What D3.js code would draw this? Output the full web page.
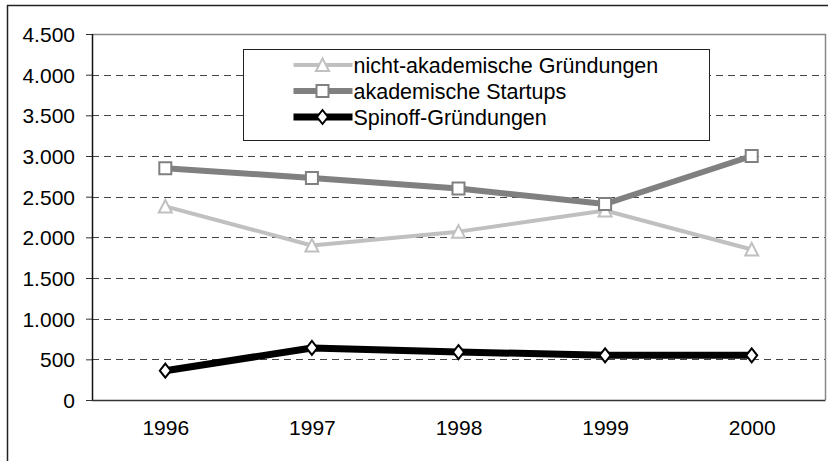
<!DOCTYPE html>
<html>
<head>
<meta charset="utf-8">
<script src="https://cdn.jsdelivr.net/npm/d3@7"></script>
<style>
  body { margin: 0; background: #fff; }
  svg text { font-family: "Liberation Sans", Arial, sans-serif; fill: #000; }
</style>
</head>
<body>
<div id="chart"></div>
<script>
// data
var years = ["1996", "1997", "1998", "1999", "2000"];
var nichtAkademisch = [2380, 1900, 2070, 2330, 1850];
var akademisch = [2850, 2730, 2600, 2410, 3000];
var spinoff = [360, 640, 590, 550, 550];
var yTicks = [0, 500, 1000, 1500, 2000, 2500, 3000, 3500, 4000, 4500];

var svgWidth = 828;
var svgHeight = 461;

// plot area
var margin = { top: 34, right: 3, bottom: 61, left: 92 };
var width = svgWidth - margin.left - margin.right;
var height = svgHeight - margin.top - margin.bottom;

var de = d3.formatLocale({ decimal: ",", thousands: ".", grouping: [3], currency: ["", "€"] });
var fmt = de.format(",d");

var svg = d3.select("#chart")
    .append("svg")
    .attr("width", svgWidth)
    .attr("height", svgHeight);

// outer chart border (runs off the picture at right and bottom)
svg.append("rect")
    .attr("x", 7.5)
    .attr("y", 5.5)
    .attr("width", 840)
    .attr("height", 480)
    .attr("fill", "none")
    .attr("stroke", "#222")
    .attr("stroke-width", 1.5);

var chartGroup = svg.append("g")
    .attr("transform", `translate(${margin.left}, ${margin.top})`);

var xScale = d3.scalePoint()
    .domain(years)
    .range([0, width])
    .padding(0.5);

var yScale = d3.scaleLinear()
    .domain([0, 4500])
    .range([height, 0]);

// dashed gridlines
chartGroup.append("g")
    .selectAll("line")
    .data(yTicks.filter(d => d > 0 && d < 4500))
    .enter()
    .append("line")
    .attr("x1", 0)
    .attr("x2", width)
    .attr("y1", d => Math.round(yScale(d)) + 0.5)
    .attr("y2", d => Math.round(yScale(d)) + 0.5)
    .attr("stroke", "#444")
    .attr("stroke-width", 1.2)
    .attr("stroke-dasharray", "7,5");

// plot area border top / right
chartGroup.append("path")
    .attr("d", `M0,${yScale(4500) + 0.5}H${width + 0.5}V${height}`)
    .attr("fill", "none")
    .attr("stroke", "#888")
    .attr("stroke-width", 1.5);

// y axis
var yAxis = d3.axisLeft(yScale)
    .tickValues(yTicks)
    .tickSize(6)
    .tickPadding(11)
    .tickFormat(fmt);

var yG = chartGroup.append("g")
    .classed("y-axis", true)
    .call(yAxis);
yG.select(".domain").remove();
yG.selectAll("line").attr("stroke", "#333");
yG.selectAll("text")
    .attr("font-size", 21)
    .attr("font-family", "Liberation Sans, Arial, sans-serif")
    .attr("dy", "0.35em");

// x axis
var xAxis = d3.axisBottom(xScale)
    .tickSize(0)
    .tickPadding(20);

var xG = chartGroup.append("g")
    .classed("x-axis", true)
    .attr("transform", `translate(0, ${height})`)
    .call(xAxis);
xG.select(".domain").remove();
xG.selectAll("text")
    .attr("font-size", 21)
    .attr("font-family", "Liberation Sans, Arial, sans-serif");

// axis lines
chartGroup.append("line")
    .attr("x1", 0.5).attr("x2", 0.5)
    .attr("y1", 0).attr("y2", height + 0.5)
    .attr("stroke", "#111").attr("stroke-width", 1.5);
chartGroup.append("line")
    .attr("x1", 0).attr("x2", width + 0.5)
    .attr("y1", height + 0.5).attr("y2", height + 0.5)
    .attr("stroke", "#333").attr("stroke-width", 1.5);

// series
var series = [
    { name: "nicht-akademische Gründungen", values: nichtAkademisch, color: "#c0c0c0", width: 4, marker: "triangle", mstroke: "#c0c0c0" },
    { name: "akademische Startups", values: akademisch, color: "#808080", width: 6, marker: "square", mstroke: "#808080" },
    { name: "Spinoff-Gründungen", values: spinoff, color: "#000", width: 7, marker: "diamond", mstroke: "#000" }
];

var markerPath = {
    triangle: "M0,-6.5L6.5,6L-6.5,6Z",
    square: "M-6,-6H6V6H-6Z",
    diamond: "M0,-7L5.5,0L0,7L-5.5,0Z"
};

var line = d3.line()
    .x((d, i) => xScale(years[i]))
    .y(d => yScale(d));

series.forEach(function(s) {
    chartGroup.append("path")
        .datum(s.values)
        .attr("d", line)
        .attr("fill", "none")
        .attr("stroke", s.color)
        .attr("stroke-width", s.width)
        .attr("stroke-linejoin", "round");
});

series.forEach(function(s) {
    chartGroup.selectAll(null)
        .data(s.values)
        .enter()
        .append("path")
        .attr("d", markerPath[s.marker])
        .attr("transform", (d, i) => `translate(${xScale(years[i])}, ${yScale(d)})`)
        .attr("fill", "#fff")
        .attr("stroke", s.mstroke)
        .attr("stroke-width", 2);
});

// legend
var legend = svg.append("g")
    .attr("transform", "translate(243.5, 49.5)");

legend.append("rect")
    .attr("width", 466)
    .attr("height", 91)
    .attr("fill", "#fff")
    .attr("stroke", "#222")
    .attr("stroke-width", 1);

var items = legend.selectAll("g.item")
    .data(series)
    .enter()
    .append("g")
    .attr("class", "item")
    .attr("transform", (d, i) => `translate(0, ${15.5 + i * 26})`);

items.append("line")
    .attr("x1", 50)
    .attr("x2", 109)
    .attr("stroke", d => d.color)
    .attr("stroke-width", d => d.width);

items.append("path")
    .attr("d", d => markerPath[d.marker])
    .attr("transform", "translate(79, 0)")
    .attr("fill", "#fff")
    .attr("stroke", d => d.mstroke)
    .attr("stroke-width", 2);

items.append("text")
    .attr("x", 110)
    .attr("dy", "0.35em")
    .attr("font-size", 21.5)
    .text(d => d.name);
</script>
</body>
</html>
